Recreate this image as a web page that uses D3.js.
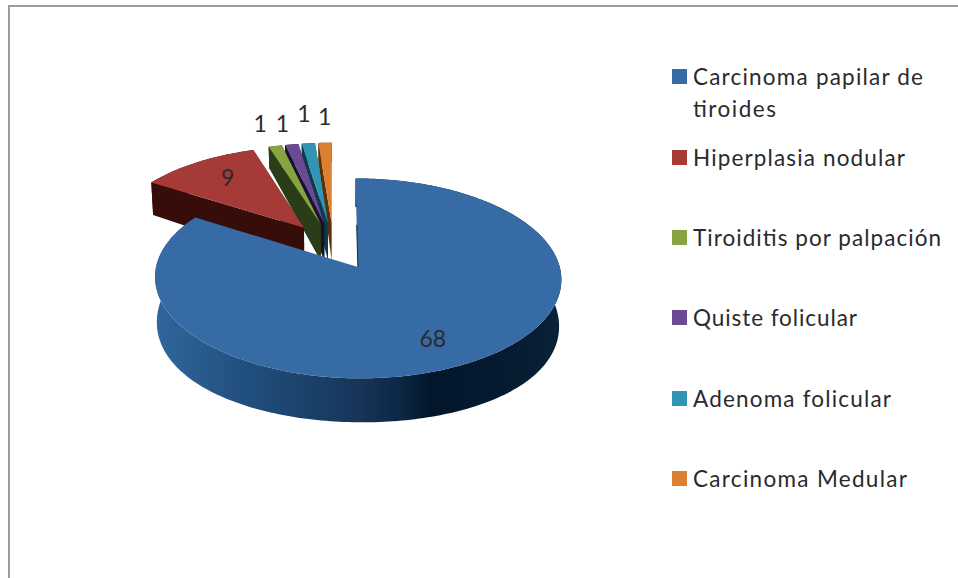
<!DOCTYPE html>
<html>
<head>
<meta charset="utf-8">
<script src="https://cdn.jsdelivr.net/npm/d3@7/dist/d3.min.js"></script>
<style>
  html, body { margin: 0; padding: 0; background: #fff; }
  svg { display: block; }
  text { font-family: "Lato", sans-serif; fill: #2a2a2e; }
</style>
</head>
<body>
<svg id="chart" width="958" height="578"></svg>
<script>
// Diagnoses and case counts
const categories = [
  "Carcinoma papilar de tiroides",
  "Hiperplasia nodular",
  "Tiroiditis por palpación",
  "Quiste folicular",
  "Adenoma folicular",
  "Carcinoma Medular"
];
const cases = [68, 9, 1, 1, 1, 1];
const topColors = ["#376ba5", "#a53a37", "#86a43f", "#6b4a94", "#2f95b3", "#dc8030"];
const wallColors = ["#16365c", "#370d0a", "#2b3d18", "#1a1030", "#0c3c4c", "#5c300a"];

// Legend rows; the first entry wraps onto two lines
const legendLines = [["Carcinoma papilar de", "tiroides"], ["Hiperplasia nodular"], ["Tiroiditis por palpación"],
  ["Quiste folicular"], ["Adenoma folicular"], ["Carcinoma Medular"]];
const legendLineWidths = [[230, 83], [212], [248], [164], [198], [214]];

// Tilted-disc perspective: pie-plane units (radius 1) to screen pixels
const view = { x: 333.5, y: 246, rx: 197, ry: 94, persp: 0.11, floorY: 286, floorRy: 105, floorPersp: 0.05, bow: 3, floorShrink: 0.99 };
const explode = 0.25;

function top3d(X, Y) {
  const w = 1 + view.persp * Y;
  return [view.x + view.rx * X / w, view.y - view.ry * Y / w];
}
function floor3d(X, Y) {
  const w = 1 + view.floorPersp * Y;
  return [view.x + (top3d(X, Y)[0] - view.x) * view.floorShrink,
          view.floorY - view.floorRy * Y / w + view.bow * X * X];
}

const pie = d3.pie().sort(null).startAngle(0).endAngle(2 * Math.PI);
const arcs = pie(cases);
const line = d3.line();

const slices = arcs.map((a, i) => {
  const mid = (a.startAngle + a.endAngle) / 2;
  const apex = [explode * Math.sin(mid), explode * Math.cos(mid)];
  const rim = t => [apex[0] + Math.sin(t), apex[1] + Math.cos(t)];
  const steps = Math.max(2, Math.ceil((a.endAngle - a.startAngle) / 0.02));
  const rimPts = d3.range(steps + 1).map(k => rim(a.startAngle + (a.endAngle - a.startAngle) * k / steps));
  return { i, mid, apex, rim, rimPts, a };
});

const svg = d3.select("#chart");
const defs = svg.append("defs");
const grad = defs.append("linearGradient").attr("id", "blueWall");
[[0, "#30669c"], [0.1, "#2b5c8f"], [0.22, "#214f7e"], [0.38, "#1a4168"], [0.5, "#17355a"], [0.6, "#0d2745"], [0.68, "#03172c"], [0.9, "#061c30"], [1, "#0a2238"]]
  .forEach(([o, c]) => grad.append("stop").attr("offset", o).attr("stop-color", c));

// Chart frame: only top and left edges are drawn
svg.append("path").attr("d", line([[9, 578], [9, 6], [958, 6]]))
  .attr("fill", "none").attr("stroke", "#9d9ba0").attr("stroke-width", 2);

// Paint far slices first so nearer ones overlap them
const order = d3.range(slices.length).sort((p, q) => q - p);
order.forEach(idx => {
  const s = slices[idx];
  const g = svg.append("g");
  const wall = idx === 0 ? "url(#blueWall)" : wallColors[idx];
  const polyOf = pts => line(pts.map(p => top3d(p[0], p[1])).concat(pts.slice().reverse().map(p => floor3d(p[0], p[1])))) + "Z";
  // curved outer wall
  g.append("path").attr("d", polyOf(s.rimPts)).attr("fill", wall);
  if (idx > 0) {
    // the two radial walls
    const first = s.rimPts[0], last = s.rimPts[s.rimPts.length - 1];
    g.append("path").attr("d", polyOf([last, s.apex])).attr("fill", wallColors[idx]);
    g.append("path").attr("d", polyOf([first, s.apex])).attr("fill", wallColors[idx]);
  }
  // top face
  const face = s.rimPts.concat([s.apex]).map(p => top3d(p[0], p[1]));
  g.append("path").attr("d", line(face) + "Z").attr("fill", topColors[idx]);
  if (idx === 0) {
    // dark seam along the inner part of the opening edge
    const r0 = s.rimPts[0];
    const seamFrom = [s.apex[0] + (r0[0] - s.apex[0]) * 0.45, s.apex[1] + (r0[1] - s.apex[1]) * 0.45];
    g.append("path").attr("d", line([top3d(...seamFrom), top3d(...s.apex)]))
      .attr("stroke", "#0d2745").attr("stroke-width", 1).attr("fill", "none");
  }
});

// Value labels placed from each slice's projected position
const labelNudge = [[-6, 1], [-5, -7], [-5, -6], [-2, -4], [0, -13], [1, -9]];
const labelReach = [0.75, 0.65, 1.25, 1.25, 1.25, 1.25];
const labelSize = 23;
slices.forEach((s, i) => {
  const r = labelReach[i];
  const p = top3d(s.apex[0] + r * Math.sin(s.mid), s.apex[1] + r * Math.cos(s.mid));
  svg.append("text")
    .attr("x", p[0] + labelNudge[i][0]).attr("y", p[1] + labelNudge[i][1])
    .attr("text-anchor", "middle").attr("dominant-baseline", "central")
    .attr("font-size", labelSize).text(cases[i]);
});

// Legend
const legendTop = [69, 150, 230, 310, 391, 471];
const legendBand = d3.scaleOrdinal().domain(categories).range(legendTop);
categories.forEach((c, i) => {
  const y = legendBand(c);
  svg.append("rect").attr("x", 672).attr("y", y).attr("width", 15).attr("height", 15).attr("fill", topColors[i]);
  legendLines[i].forEach((t, k) => {
    svg.append("text").attr("x", 693).attr("y", y + 16 + k * 32)
      .attr("font-size", 22.5)
      .attr("textLength", legendLineWidths[i][k]).attr("lengthAdjust", "spacing")
      .text(t);
  });
});
</script>
</body>
</html>
